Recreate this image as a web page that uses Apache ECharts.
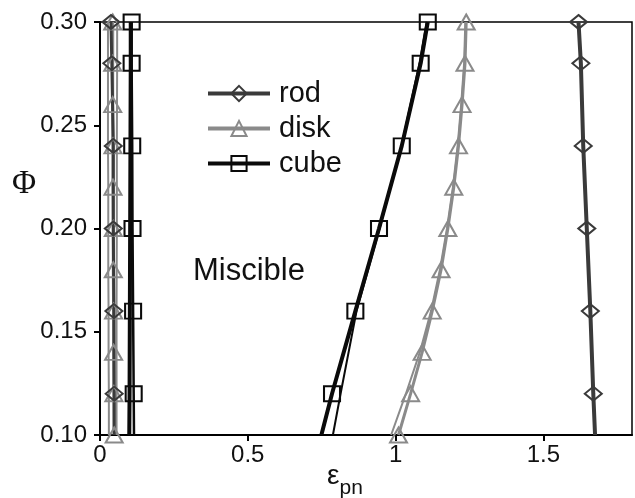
<!DOCTYPE html>
<html>
<head>
<meta charset="utf-8">
<script src="https://cdn.jsdelivr.net/npm/echarts@6/dist/echarts.min.js"></script>
<style>html,body{margin:0;padding:0;background:#fff}#c{width:635px;height:498px}</style>
</head>
<body>
<div id="c"></div>
<script>
// Phi values (y) for the curves
const phi7 = [0.30, 0.28, 0.24, 0.20, 0.16, 0.12, 0.10];
const phi11 = [0.30, 0.28, 0.26, 0.24, 0.22, 0.20, 0.18, 0.16, 0.14, 0.12, 0.10];
// epsilon_pn values (x)
const rodLeft   = [0.037, 0.040, 0.045, 0.045, 0.047, 0.048, 0.048];
const rodLeft2  = [0.058, 0.058, 0.057, 0.057, 0.056, 0.056, 0.056];
const rodRight  = [1.619, 1.627, 1.635, 1.647, 1.659, 1.669, 1.675];
const diskLeft  = [0.043, 0.043, 0.043, 0.044, 0.044, 0.045, 0.045, 0.046, 0.046, 0.047, 0.048];
const diskLeft2 = [0.027, 0.027, 0.027, 0.027, 0.028, 0.028, 0.028, 0.029, 0.029, 0.030, 0.030];
const diskRight = [1.239, 1.235, 1.225, 1.213, 1.197, 1.177, 1.154, 1.124, 1.090, 1.051, 1.010];
const diskRight2= [1.236, 1.232, 1.222, 1.210, 1.194, 1.174, 1.150, 1.120, 1.082, 1.035, 0.985];
const cubeLeft  = [0.107, 0.107, 0.109, 0.110, 0.112, 0.114, 0.115];
const cubeLeft2 = [0.104, 0.104, 0.103, 0.102, 0.101, 0.100, 0.099];
const cubeRight = [1.109, 1.085, 1.021, 0.944, 0.864, 0.785, 0.749];
const cubeRight2= [1.105, 1.081, 1.020, 0.946, 0.868, 0.814, 0.788];
// marker flags (last point of rod / cube has no marker)
const mark7  = [true, true, true, true, true, true, false];
const mark11 = [true, true, true, true, true, true, true, true, true, true, true];
const xTicks = [0, 0.5, 1, 1.5];
const yTicks = [0.10, 0.15, 0.20, 0.25, 0.30];
const legendNames = ['rod', 'disk', 'cube'];

function pts(xs, ys, marks) {
  return xs.map((x, i) => marks && !marks[i] ? {value: [x, ys[i]], symbol: 'none'} : [x, ys[i]]);
}
const ROD = '#3a3a3a', DISK = '#8a8a8a', CUBE = '#0a0a0a';
const legendWidth = {rod: 4, disk: 4, cube: 4};
function markerSeries(name, xs, ys, marks, color, width, symbol, size) {
  return {
    name: name, type: 'line', data: pts(xs, ys, marks), clip: false,
    symbol: symbol, symbolSize: size, showAllSymbol: true,
    lineStyle: {color: color, width: width},
    itemStyle: {color: 'rgba(255,255,255,0)', borderColor: color, borderWidth: 2},
    emphasis: {disabled: true}, z: 3
  };
}
function plainSeries(name, xs, ys, color, width) {
  return {
    name: name, type: 'line', data: pts(xs, ys, null), clip: false, symbol: 'none',
    lineStyle: {color: color, width: width}, emphasis: {disabled: true}, z: 2
  };
}

const chart = echarts.init(document.getElementById('c'));
chart.setOption({
  animation: false,
  backgroundColor: '#fff',
  grid: {left: 100, right: 3, top: 22, bottom: 63, show: true, borderColor: '#000', borderWidth: 1.5},
  legend: {
    data: legendNames.map(n => ({name: n, lineStyle: {width: legendWidth[n]}, itemStyle: {borderWidth: 2}})),
    orient: 'vertical', left: 201, top: 74,
    itemWidth: 62, itemHeight: 19, itemGap: 6,
    textStyle: {fontSize: 29, color: '#111', fontFamily: 'Liberation Sans', padding: [0, 0, 0, 4]}
  },
  xAxis: {
    type: 'value', min: 0, max: 1.8,
    axisLine: {lineStyle: {color: '#000', width: 2}},
    axisTick: {customValues: xTicks, length: 6, inside: false, lineStyle: {color: '#000', width: 2}},
    axisLabel: {customValues: xTicks, fontSize: 24, color: '#111', fontFamily: 'Liberation Sans', margin: 8},
    splitLine: {show: false}
  },
  yAxis: {
    type: 'value', min: 0.1, max: 0.3,
    axisLine: {lineStyle: {color: '#000', width: 2}},
    axisTick: {customValues: yTicks, length: 6, lineStyle: {color: '#000', width: 2}},
    axisLabel: {customValues: yTicks, fontSize: 24, color: '#111', fontFamily: 'Liberation Sans', margin: 13,
      formatter: v => v.toFixed(2)},
    splitLine: {show: false}
  },
  graphic: [
    {type: 'text', left: 12, top: 168, style: {text: 'Φ', fontSize: 33, fontFamily: 'Liberation Serif', fill: '#111'}},
    {type: 'text', left: 193, top: 256, style: {text: 'Miscible', fontSize: 31, fontFamily: 'Liberation Sans', fill: '#111'}},
    {type: 'text', left: 327, top: 462, style: {
      text: '{e|ε}{s|pn}', rich: {
        e: {fontSize: 28, fontFamily: 'Liberation Sans', fill: '#111', verticalAlign: 'top'},
        s: {fontSize: 21, fontFamily: 'Liberation Sans', fill: '#111', padding: [16, 0, 0, 0]}
      }}}
  ],
  series: [
    markerSeries('rod', rodRight, phi7, mark7, ROD, 4, 'diamond', [17, 14]),
    markerSeries('disk', diskRight, phi11, mark11, DISK, 3, 'triangle', [17, 15]),
    markerSeries('cube', cubeRight, phi7, mark7, CUBE, 4, 'rect', [16, 15]),
    plainSeries('disk2', diskRight2, phi11, DISK, 2),
    plainSeries('cube2', cubeRight2, phi7, CUBE, 2),
    plainSeries('rodL2', rodLeft2, phi7, DISK, 2),
    plainSeries('diskL2', diskLeft2, phi11, DISK, 2),
    plainSeries('cubeL2', cubeLeft2, phi7, CUBE, 4),
    markerSeries('diskL', diskLeft, phi11, mark11, DISK, 3, 'triangle', [17, 15]),
    markerSeries('rodL', rodLeft, phi7, mark7, ROD, 3, 'diamond', [17, 14]),
    markerSeries('cubeL', cubeLeft, phi7, mark7, CUBE, 2.5, 'rect', [16, 15])
  ]
});
</script>
</body>
</html>
